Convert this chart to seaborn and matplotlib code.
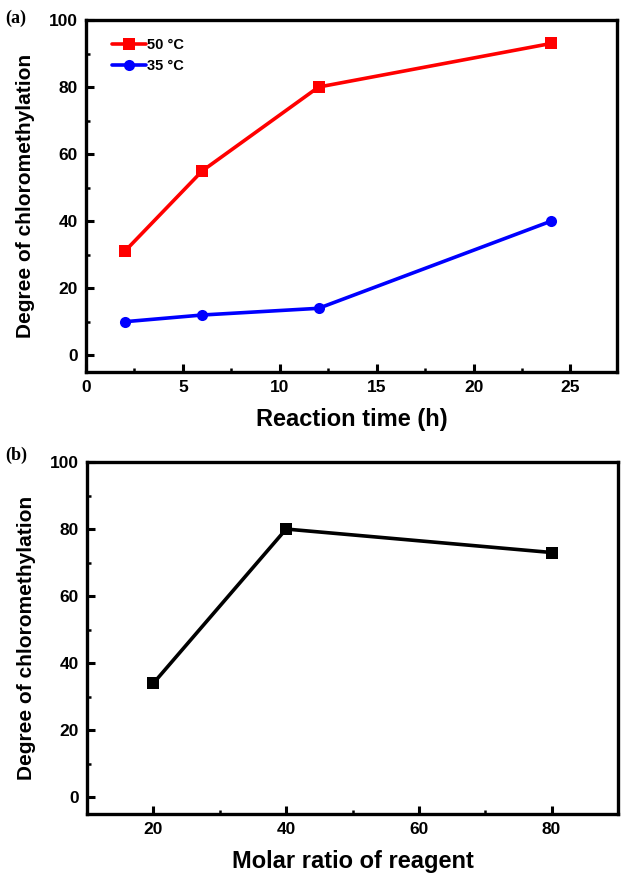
import matplotlib
matplotlib.use("Agg")
import matplotlib.pyplot as plt
import seaborn as sns
import pandas as pd
from matplotlib.ticker import MultipleLocator

# Data
time_h = [2, 6, 12, 24]
deg_50C = [31, 55, 80, 93]
deg_35C = [10, 12, 14, 40]
molar_ratio = [20, 40, 80]
deg_ratio = [34, 80, 73]

sns.set_theme(style="ticks")
plt.rcParams['font.family'] = ['Liberation Sans', 'DejaVu Sans']
plt.rcParams['font.weight'] = 'bold'
plt.rcParams['text.color'] = 'black'
plt.rcParams['axes.labelcolor'] = 'black'
plt.rcParams['xtick.color'] = 'black'
plt.rcParams['ytick.color'] = 'black'

fig = plt.figure(figsize=(6.24, 8.77), dpi=100)
ax1 = fig.add_axes([86/624, 1-372/877, (617-86)/624, (372-20)/877])
ax2 = fig.add_axes([87/624, 1-814/877, (618-87)/624, (814-462)/877])

df_a = pd.DataFrame({
    "time": time_h * 2,
    "deg": deg_50C + deg_35C,
    "series": ["50 °C"] * len(time_h) + ["35 °C"] * len(time_h),
})
sns.lineplot(data=df_a, x="time", y="deg", hue="series", style="series",
             palette={"50 °C": "#ff0000", "35 °C": "#0000ff"},
             markers={"50 °C": "s", "35 °C": "o"}, dashes=False,
             linewidth=2.6, markersize=8, markeredgewidth=0, ax=ax1)

df_b = pd.DataFrame({"ratio": molar_ratio, "deg": deg_ratio})
sns.lineplot(data=df_b, x="ratio", y="deg", color="black", marker="s",
             linewidth=2.6, markersize=8, markeredgewidth=0, ax=ax2)

ax1.set_xlim(0, 27.4)
ax1.set_ylim(-5, 100)
ax1.xaxis.set_major_locator(MultipleLocator(5))
ax1.xaxis.set_minor_locator(MultipleLocator(2.5))
ax1.yaxis.set_major_locator(MultipleLocator(20))
ax1.yaxis.set_minor_locator(MultipleLocator(10))

ax2.set_xlim(10, 90)
ax2.set_ylim(-5, 100)
ax2.xaxis.set_major_locator(MultipleLocator(20))
ax2.xaxis.set_minor_locator(MultipleLocator(10))
ax2.yaxis.set_major_locator(MultipleLocator(20))
ax2.yaxis.set_minor_locator(MultipleLocator(10))

for ax in (ax1, ax2):
    for s in ax.spines.values():
        s.set_visible(True)
        s.set_linewidth(2.4)
        s.set_color("black")
    ax.tick_params(which="major", direction="in", length=6, width=2.2,
                   labelsize=12.5, pad=6, colors="black", labelcolor="black")
    ax.tick_params(which="minor", direction="in", length=3, width=1.8,
                   colors="black")
    ax.tick_params(top=False, right=False, which="both")
    for lab in ax.get_xticklabels() + ax.get_yticklabels():
        lab.set_fontweight("bold")
    ax.set_ylabel("Degree of chloromethylation", fontsize=15,
                  fontweight="bold", labelpad=10, color="black")

ax1.set_xlabel("Reaction time (h)", fontsize=17, fontweight="bold",
               labelpad=9, color="black")
ax2.set_xlabel("Molar ratio of reagent", fontsize=17, fontweight="bold",
               labelpad=9, color="black")

leg = ax1.legend(loc="upper left", frameon=False, fontsize=10.5,
                 handlelength=2.3, handletextpad=0.1, labelspacing=0.45,
                 borderaxespad=0.5, bbox_to_anchor=(0.025, 0.985))
for t in leg.get_texts():
    t.set_fontweight("bold")
    t.set_color("black")

fig.text(5/624, 1-18/877, "(a)", fontsize=13, fontweight="bold",
         family=["Liberation Serif", "DejaVu Serif"], va="center", ha="left")
fig.text(5/624, 1-455/877, "(b)", fontsize=13, fontweight="bold",
         family=["Liberation Serif", "DejaVu Serif"], va="center", ha="left")

fig.savefig("out.png", dpi=100)
